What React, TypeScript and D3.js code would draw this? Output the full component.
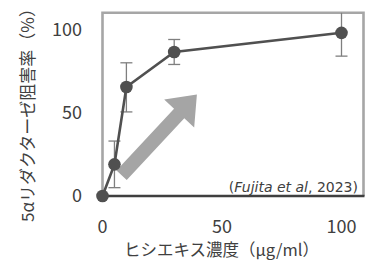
import * as d3 from 'd3';

// concentration (µg/ml) and inhibition (%) with error bar ends
const conc = [0, 5, 10, 30, 100];
const inhibition = [0, 19, 65.5, 86.5, 98];
const errLow = [0, 5, 50.5, 79, 84];
const errHigh = [0, 33, 80, 94, 110];
const xTicks = [0, 50, 100];
const yTicks = [0, 50, 100];
// arrow annotation in data units
const arrowFrom = { x: 8, y: 12.5 };
const arrowTo = { x: 39.5, y: 61 };

const W = 367;
const H = 273;
const jp = '"Noto Sans CJK JP", "Noto Sans", sans-serif';

const App = () => {
    const x = d3.scaleLinear().domain([0, 100]).range([102.5, 341.5]);
    const y = d3.scaleLinear().domain([0, 100]).range([196, 29.5]);
    const boxLeft = 102.5;
    const boxRight = 363.5;
    const boxTop = 12.7;
    const boxBottom = y(0);

    const line = d3
        .line<number>()
        .x((_, i) => x(conc[i]))
        .y(d => y(d));

    // build the block arrow polygon in pixel space
    const x0 = x(arrowFrom.x), y0 = y(arrowFrom.y);
    const x1 = x(arrowTo.x), y1 = y(arrowTo.y);
    const len = Math.hypot(x1 - x0, y1 - y0);
    const ux = (x1 - x0) / len, uy = (y1 - y0) / len;
    const px = -uy, py = ux;
    const shaft = 7, head = 20.5, headLen = 26;
    const bx = x1 - ux * headLen, by = y1 - uy * headLen;
    const arrowPts = [
        [x0 + px * shaft, y0 + py * shaft],
        [bx + px * shaft, by + py * shaft],
        [bx + px * head, by + py * head],
        [x1, y1],
        [bx - px * head, by - py * head],
        [bx - px * shaft, by - py * shaft],
        [x0 - px * shaft, y0 - py * shaft],
    ];

    return (
        <svg width={W} height={H} style={{ position: 'absolute', left: 0, top: 0 }}>
            <rect width={W} height={H} fill="#fff" />
            {/* frame */}
            <path
                d={`M${boxLeft},${boxBottom}V${boxTop}H${boxRight}V${boxBottom}`}
                fill="none"
                stroke="#a6a6a6"
                strokeWidth={2.6}
            />
            <line x1={boxLeft} x2={boxRight + 1} y1={boxBottom} y2={boxBottom} stroke="#3f3f3f" strokeWidth={2.6} />

            {/* y ticks */}
            {yTicks.map(t => (
                <text key={t} x={82} y={y(t)} dy="0.36em" textAnchor="end" fontFamily={jp} fontSize={18} fill="#404040">
                    {t}
                </text>
            ))}
            {/* x ticks */}
            {xTicks.map(t => (
                <text key={t} x={x(t)} y={233} textAnchor="middle" fontFamily={jp} fontSize={18} fill="#404040">
                    {t}
                </text>
            ))}

            <text
                transform={`translate(34,111) rotate(-90)`}
                textAnchor="middle"
                fontFamily={jp}
                fontSize={17}
                fill="#404040"
            >
                5αリダクターゼ阻害率（%）
            </text>
            <text x={221.5} y={256} textAnchor="middle" fontFamily={jp} fontSize={16.5} fill="#404040">
                ヒシエキス濃度（μg/ml）
            </text>

            <text x={358} y={192} textAnchor="end" fontFamily='"DejaVu Sans", sans-serif' fontSize={14} fill="#404040">
                (<tspan fontStyle="italic">Fujita et al</tspan>, 2023)
            </text>

            {/* arrow */}
            <polygon points={arrowPts.map(p => p.join(',')).join(' ')} fill="#a5a5a5" />

            {/* error bars */}
            {conc.map((c, i) =>
                i === 0 ? null : (
                    <g key={c} stroke="#7f7f7f" strokeWidth={1.3}>
                        <line x1={x(c)} x2={x(c)} y1={y(errLow[i])} y2={y(errHigh[i])} />
                        <line x1={x(c) - 6} x2={x(c) + 6} y1={y(errLow[i])} y2={y(errLow[i])} />
                        {errHigh[i] < 105 && (
                            <line x1={x(c) - 6} x2={x(c) + 6} y1={y(errHigh[i])} y2={y(errHigh[i])} />
                        )}
                    </g>
                )
            )}

            <path d={line(inhibition) ?? ''} fill="none" stroke="#505050" strokeWidth={2.6} />
            {inhibition.map((v, i) => (
                <circle key={i} cx={x(conc[i])} cy={y(v)} r={6.3} fill="#505050" />
            ))}
        </svg>
    );
};

export default App;
